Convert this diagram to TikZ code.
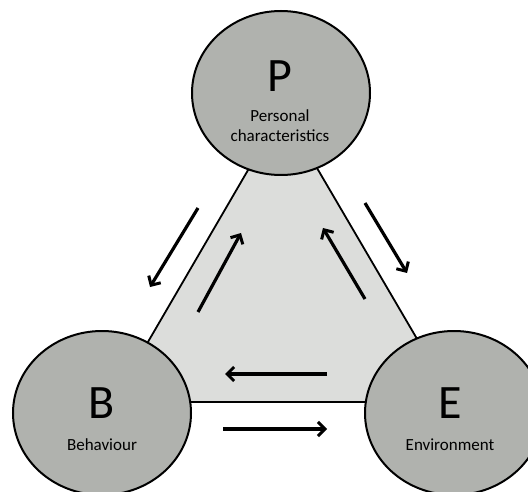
\documentclass[tikz,border=0pt]{standalone}
\usepackage{fontspec}
\setmainfont{Carlito}
\usepackage{xcolor}
\usetikzlibrary{shapes.geometric,arrows.meta,positioning,calc}

\definecolor{circlegray}{RGB}{176,178,174}
\definecolor{trianglegray}{RGB}{220,221,219}

\tikzset{
    factor/.style={draw=black, line width=2pt, fill=circlegray, ellipse,
        minimum width=178pt, minimum height=164pt, inner sep=0pt},
    letter/.style={anchor=base, inner sep=0pt, font=\fontsize{48}{48}\selectfont},
    caption/.style={anchor=base, inner sep=0pt, font=\fontsize{17}{17}\selectfont},
    flow/.style={line width=3.2pt, -{Straight Barb[length=7pt,width=14pt,line width=3pt]}}
}

\begin{document}
\begin{tikzpicture}[x=1pt, y=-1pt]
    \useasboundingbox (0,0) rectangle (528,492);

    % triangle between the three factors
    \coordinate (tp) at (283,110);
    \coordinate (tb) at (113,402);
    \coordinate (te) at (454,402);
    \draw[line width=1.8pt, fill=trianglegray] (tp) -- (tb) -- (te) -- cycle;

    % the three factors
    \node[factor] (P) at (281,93) {};
    \node[factor] (B) at (102,413) {};
    \node[factor] (E) at (454,413) {};

    \node[letter] (Pl) at (280,92) {P};
    \node[caption] (Pc1) at (280,122) {Personal};
    \node[caption] (Pc2) at (280,142) {characteristics};

    \node[letter] (Bl) at (102,418) {B};
    \node[caption] (Bc) at (102,450) {Behaviour};

    \node[letter] (El) at (450,418) {E};
    \node[caption] (Ec) at (450,450) {Environment};

    % reciprocal influences
    \draw[flow] (198,208) -- (150,287); % P to B
    \draw[flow] (198,312) -- (241,233); % B to P
    \draw[flow] (365,299) -- (323,228); % E to P
    \draw[flow] (365,203) -- (407,273); % P to E
    \draw[flow] (327,374) -- (225,374); % E to B
    \draw[flow] (223,429) -- (327,429); % B to E
\end{tikzpicture}
\end{document}
